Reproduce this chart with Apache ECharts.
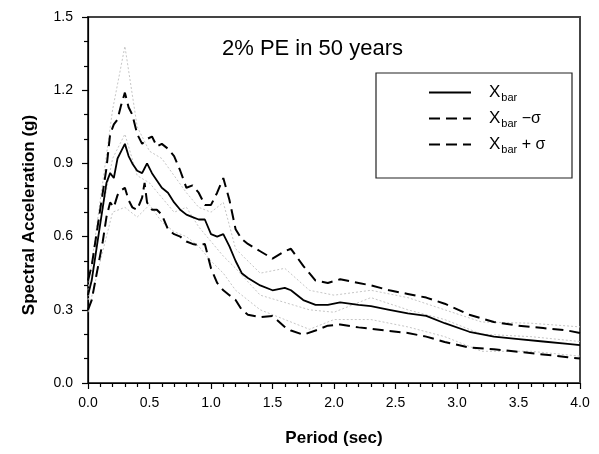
<!DOCTYPE html>
<html>
<head>
<meta charset="utf-8">
<script src="https://cdn.jsdelivr.net/npm/echarts@6/dist/echarts.min.js"></script>
<style>
  html, body { margin: 0; padding: 0; background: #fff; }
  #chart { width: 599px; height: 454px; }
</style>
</head>
<body>
<div id="chart"></div>
<script>
// Period grid (sec) shared by the three summary spectra
const periods = [0.00, 0.03, 0.06, 0.09, 0.12, 0.15, 0.18, 0.21, 0.24, 0.27, 0.30, 0.33, 0.36, 0.40,
  0.44, 0.46, 0.48, 0.52, 0.56, 0.60, 0.65, 0.70, 0.75, 0.80, 0.85, 0.90, 0.95, 1.00, 1.05, 1.10,
  1.15, 1.20, 1.25, 1.30, 1.40, 1.50, 1.60, 1.65, 1.75, 1.85, 1.95, 2.05, 2.20, 2.30, 2.45, 2.60,
  2.75, 2.90, 3.10, 3.30, 3.50, 3.70, 3.90, 4.00];

// Mean spectral acceleration (g)
const meanSa = [0.36, 0.42, 0.52, 0.62, 0.72, 0.82, 0.86, 0.84, 0.92, 0.95, 0.98, 0.93, 0.90, 0.87,
  0.86, 0.88, 0.90, 0.86, 0.83, 0.80, 0.78, 0.74, 0.71, 0.69, 0.68, 0.67, 0.67, 0.61, 0.60, 0.61,
  0.56, 0.50, 0.45, 0.43, 0.40, 0.38, 0.39, 0.38, 0.34, 0.32, 0.32, 0.33, 0.32, 0.315, 0.30, 0.285,
  0.275, 0.245, 0.21, 0.19, 0.18, 0.17, 0.16, 0.155];

// Mean minus one standard deviation (g)
const minusSa = [0.30, 0.34, 0.42, 0.50, 0.58, 0.68, 0.74, 0.72, 0.77, 0.79, 0.80, 0.75, 0.72, 0.71,
  0.76, 0.82, 0.74, 0.71, 0.71, 0.69, 0.63, 0.61, 0.60, 0.58, 0.57, 0.565, 0.57, 0.47, 0.41, 0.38,
  0.36, 0.34, 0.30, 0.28, 0.27, 0.275, 0.23, 0.215, 0.198, 0.215, 0.235, 0.24, 0.228, 0.222, 0.213, 0.205,
  0.19, 0.168, 0.145, 0.138, 0.128, 0.117, 0.106, 0.100];

// Mean plus one standard deviation (g)
const plusSa = [0.42, 0.48, 0.58, 0.68, 0.78, 0.88, 1.02, 1.06, 1.08, 1.14, 1.19, 1.13, 1.10, 1.02,
  0.98, 0.99, 1.00, 1.01, 0.97, 0.98, 0.96, 0.93, 0.87, 0.80, 0.81, 0.78, 0.73, 0.73, 0.78, 0.84,
  0.75, 0.63, 0.59, 0.57, 0.54, 0.51, 0.54, 0.55, 0.48, 0.42, 0.41, 0.425, 0.41, 0.40, 0.38, 0.365,
  0.35, 0.325, 0.28, 0.25, 0.235, 0.225, 0.215, 0.205];

// Individual record spectra shown in light grey behind the summary curves
const recordPeriods = [0.0, 0.1, 0.2, 0.3, 0.4, 0.5, 0.6, 0.7, 0.8, 0.9, 1.0, 1.1, 1.2, 1.4, 1.6,
  1.8, 2.0, 2.3, 2.6, 2.9, 3.2, 3.6, 4.0];
const recordA = [0.38, 0.75, 1.12, 1.38, 1.05, 0.95, 0.92, 0.85, 0.78, 0.72, 0.70, 0.74, 0.55, 0.45,
  0.47, 0.38, 0.36, 0.38, 0.35, 0.30, 0.25, 0.245, 0.23];
const recordB = [0.29, 0.50, 0.70, 0.72, 0.68, 0.73, 0.66, 0.62, 0.60, 0.56, 0.50, 0.45, 0.38, 0.30,
  0.26, 0.22, 0.26, 0.26, 0.23, 0.19, 0.13, 0.13, 0.11];
const recordC = [0.34, 0.66, 0.92, 1.02, 0.85, 0.82, 0.76, 0.70, 0.72, 0.64, 0.58, 0.52, 0.47, 0.36,
  0.33, 0.30, 0.29, 0.35, 0.30, 0.26, 0.20, 0.19, 0.17];

const xTicks = { min: 0, max: 4, interval: 0.5 };
const yTicks = { min: 0, max: 1.5, interval: 0.3 };

const FONT = 'Liberation Sans, Arial, Helvetica, sans-serif';

const pairs = (xs, ys) => xs.map((x, i) => [x, ys[i]]);

const legendText = {
  mean: '{x|X}{sub|bar}',
  minus: '{x|X}{sub|bar}{op| \u2212\u03c3}',
  plus: '{x|X}{sub|bar}{op| + \u03c3}'
};

const chart = echarts.init(document.getElementById('chart'), null, { renderer: 'canvas' });

const recordSeries = [recordA, recordB, recordC].map((vals, k) => ({
  name: 'record' + k,
  type: 'line',
  data: pairs(recordPeriods, vals),
  symbol: 'none',
  silent: true,
  z: 1,
  lineStyle: { color: '#c6c6c6', width: 1, type: [2, 2] }
}));

chart.setOption({
  animation: false,
  backgroundColor: '#ffffff',
  title: {
    text: '2% PE in 50 years',
    left: 217,
    top: 33,
    textStyle: { fontFamily: FONT, fontSize: 22, fontWeight: 'normal', color: '#000' }
  },
  grid: {
    left: 88, right: 19, top: 17, bottom: 71,
    show: true, borderColor: '#444', borderWidth: 2, backgroundColor: 'transparent'
  },
  legend: {
    data: ['mean', 'minus', 'plus'],
    orient: 'vertical',
    left: 428,
    top: 82,
    padding: 0,
    itemWidth: 42,
    itemHeight: 14,
    itemGap: 5,
    selectedMode: false,
    itemStyle: { opacity: 0 },
    formatter: name => legendText[name],
    textStyle: {
      fontFamily: FONT,
      color: '#000',
      rich: {
        x: { fontFamily: FONT, fontSize: 17, lineHeight: 22, padding: [0, 0, 0, 13], color: '#000' },
        sub: { fontFamily: FONT, fontSize: 11, lineHeight: 22, padding: [10, 0, 0, 1], color: '#000' },
        op: { fontFamily: FONT, fontSize: 16, lineHeight: 22, color: '#000' }
      }
    }
  },
  graphic: [{
    type: 'rect',
    shape: { x: 376, y: 73, width: 196, height: 105 },
    style: { fill: 'rgba(255,255,255,0)', stroke: '#222', lineWidth: 1.2 },
    z: 0
  }],
  xAxis: {
    type: 'value',
    min: xTicks.min, max: xTicks.max, interval: xTicks.interval,
    name: 'Period (sec)',
    nameLocation: 'middle',
    nameGap: 47,
    nameTextStyle: { fontFamily: FONT, fontSize: 17, fontWeight: 'bold', color: '#000' },
    axisLine: { show: true, onZero: false, lineStyle: { color: '#000', width: 1.2 } },
    axisTick: { show: true, inside: false, length: 6, lineStyle: { color: '#000', width: 1.2 } },
    minorTick: { show: true, splitNumber: 5, length: 4, lineStyle: { color: '#000', width: 1.2 } },
    splitLine: { show: false },
    axisLabel: {
      fontFamily: FONT, fontSize: 14, color: '#000', margin: 13,
      formatter: v => v.toFixed(1)
    }
  },
  yAxis: {
    type: 'value',
    min: yTicks.min, max: yTicks.max, interval: yTicks.interval,
    name: 'Spectral Acceleration (g)',
    nameLocation: 'middle',
    nameGap: 50,
    nameRotate: 90,
    nameTextStyle: { fontFamily: FONT, fontSize: 17, fontWeight: 'bold', color: '#000', padding: [0, 30, 0, 0] },
    axisLine: { show: true, onZero: false, lineStyle: { color: '#000', width: 1.2 } },
    axisTick: { show: true, inside: false, length: 6, lineStyle: { color: '#000', width: 1.2 } },
    minorTick: { show: true, splitNumber: 3, length: 4, lineStyle: { color: '#000', width: 1.2 } },
    splitLine: { show: false },
    axisLabel: {
      fontFamily: FONT, fontSize: 14, color: '#000', margin: 15,
      formatter: v => v.toFixed(1)
    }
  },
  series: recordSeries.concat([
    {
      name: 'mean', type: 'line', data: pairs(periods, meanSa), symbol: 'none', z: 3,
      itemStyle: { color: '#000' },
      lineStyle: { color: '#000', width: 1.8, type: 'solid' }
    },
    {
      name: 'minus', type: 'line', data: pairs(periods, minusSa), symbol: 'none', z: 3,
      itemStyle: { color: '#000' },
      lineStyle: { color: '#000', width: 2, type: [11, 6] }
    },
    {
      name: 'plus', type: 'line', data: pairs(periods, plusSa), symbol: 'none', z: 3,
      itemStyle: { color: '#000' },
      lineStyle: { color: '#000', width: 2, type: [11, 6] }
    }
  ])
});
</script>
</body>
</html>
